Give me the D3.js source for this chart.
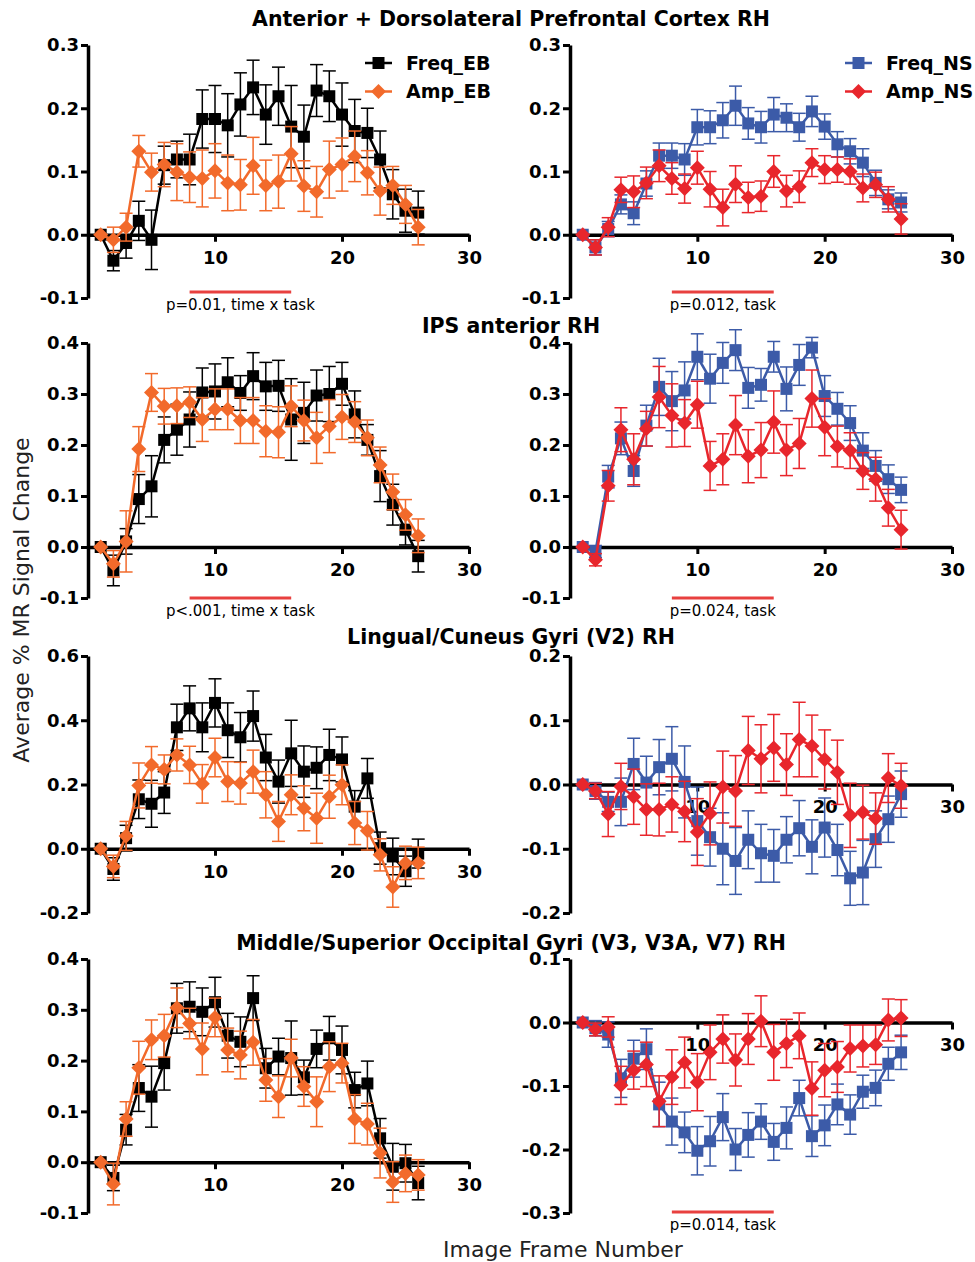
<!DOCTYPE html>
<html>
  <head>
    <style>
      body { margin: 0; background: #fff; }
      svg text { font-family: "DejaVu Sans", sans-serif; }
    </style>
    <script src="https://cdn.jsdelivr.net/npm/d3@7"></script>
    <title>MR signal change</title>
  </head>
  <body>
    <svg id="chart" width="975" height="1262"></svg>
    <script>
      var frames = [1, 2, 3, 4, 5, 6, 7, 8, 9, 10, 11, 12, 13, 14, 15, 16, 17, 18, 19, 20, 21, 22, 23, 24, 25, 26];
      var xTicks = [10, 20, 30];

      var regionTitles = [
        "Anterior + Dorsolateral Prefrontal Cortex RH",
        "IPS anterior RH",
        "Lingual/Cuneus Gyri (V2) RH",
        "Middle/Superior Occipital Gyri (V3, V3A, V7) RH"
      ];

      // prefrontal
      var pfcFreqEB = [0, -0.041, -0.013, 0.022, -0.008, 0.11, 0.119, 0.119, 0.183, 0.183, 0.173, 0.206, 0.233, 0.19, 0.219, 0.171, 0.155, 0.228, 0.219, 0.19, 0.164, 0.161, 0.119, 0.064, 0.038, 0.035];
      var pfcFreqEBErr = [0, 0.016, 0.024, 0.031, 0.047, 0.03, 0.029, 0.04, 0.046, 0.053, 0.05, 0.05, 0.043, 0.047, 0.046, 0.065, 0.05, 0.041, 0.04, 0.05, 0.05, 0.039, 0.045, 0.039, 0.034, 0.034];
      var pfcAmpEB = [0, -0.008, 0.012, 0.132, 0.099, 0.111, 0.099, 0.091, 0.089, 0.101, 0.082, 0.079, 0.109, 0.078, 0.084, 0.128, 0.077, 0.068, 0.103, 0.111, 0.124, 0.098, 0.069, 0.078, 0.048, 0.012];
      var pfcAmpEBErr = [0, 0.02, 0.022, 0.025, 0.03, 0.035, 0.045, 0.04, 0.045, 0.043, 0.044, 0.04, 0.045, 0.04, 0.042, 0.043, 0.04, 0.04, 0.045, 0.042, 0.04, 0.035, 0.038, 0.03, 0.03, 0.028];
      var pfcFreqNS = [0, -0.02, 0.009, 0.048, 0.034, 0.081, 0.125, 0.125, 0.119, 0.17, 0.17, 0.181, 0.204, 0.176, 0.17, 0.19, 0.185, 0.17, 0.195, 0.171, 0.143, 0.132, 0.114, 0.082, 0.056, 0.051];
      var pfcFreqNSErr = [0, 0.012, 0.012, 0.015, 0.018, 0.02, 0.02, 0.02, 0.025, 0.028, 0.026, 0.028, 0.031, 0.025, 0.025, 0.027, 0.022, 0.022, 0.024, 0.02, 0.02, 0.02, 0.022, 0.02, 0.015, 0.015];
      var pfcAmpNS = [0, -0.02, 0.012, 0.071, 0.068, 0.082, 0.109, 0.089, 0.073, 0.106, 0.072, 0.043, 0.08, 0.059, 0.061, 0.1, 0.069, 0.076, 0.114, 0.103, 0.103, 0.1, 0.074, 0.079, 0.056, 0.025];
      var pfcAmpNSErr = [0, 0.012, 0.015, 0.02, 0.025, 0.025, 0.025, 0.025, 0.023, 0.026, 0.028, 0.029, 0.029, 0.024, 0.024, 0.025, 0.025, 0.025, 0.022, 0.022, 0.02, 0.02, 0.022, 0.02, 0.02, 0.024];

      // IPS
      var ipsFreqEB = [0, -0.046, 0.011, 0.094, 0.119, 0.21, 0.23, 0.25, 0.303, 0.305, 0.323, 0.302, 0.335, 0.315, 0.316, 0.25, 0.263, 0.297, 0.3, 0.32, 0.26, 0.21, 0.139, 0.083, 0.034, -0.018];
      var ipsFreqEBErr = [0, 0.03, 0.025, 0.048, 0.06, 0.045, 0.05, 0.054, 0.048, 0.054, 0.048, 0.034, 0.046, 0.047, 0.05, 0.08, 0.06, 0.05, 0.054, 0.042, 0.046, 0.03, 0.05, 0.04, 0.03, 0.031];
      var ipsAmpEB = [0, -0.033, 0.011, 0.192, 0.303, 0.276, 0.277, 0.284, 0.25, 0.27, 0.27, 0.248, 0.248, 0.227, 0.225, 0.276, 0.248, 0.214, 0.237, 0.255, 0.245, 0.214, 0.161, 0.108, 0.063, 0.022];
      var ipsAmpEBErr = [0, 0.026, 0.06, 0.044, 0.037, 0.035, 0.035, 0.03, 0.043, 0.04, 0.04, 0.045, 0.045, 0.05, 0.05, 0.04, 0.04, 0.05, 0.052, 0.044, 0.04, 0.035, 0.035, 0.035, 0.03, 0.033];
      var ipsFreqNS = [0, -0.009, 0.138, 0.213, 0.149, 0.238, 0.314, 0.286, 0.307, 0.373, 0.33, 0.361, 0.386, 0.312, 0.318, 0.373, 0.31, 0.357, 0.391, 0.296, 0.271, 0.243, 0.189, 0.159, 0.133, 0.112];
      var ipsFreqNSErr = [0, 0.012, 0.022, 0.032, 0.03, 0.04, 0.056, 0.058, 0.056, 0.045, 0.048, 0.04, 0.04, 0.04, 0.032, 0.03, 0.043, 0.04, 0.02, 0.04, 0.032, 0.034, 0.035, 0.03, 0.028, 0.025];
      var ipsAmpNS = [0, -0.025, 0.12, 0.23, 0.172, 0.232, 0.294, 0.258, 0.243, 0.279, 0.159, 0.172, 0.239, 0.178, 0.19, 0.245, 0.19, 0.203, 0.291, 0.235, 0.197, 0.189, 0.149, 0.133, 0.077, 0.034];
      var ipsAmpNSErr = [0, 0.012, 0.03, 0.043, 0.05, 0.034, 0.06, 0.062, 0.046, 0.046, 0.048, 0.05, 0.058, 0.052, 0.054, 0.061, 0.05, 0.049, 0.056, 0.056, 0.04, 0.035, 0.036, 0.043, 0.036, 0.038];

      // V2
      var v2FreqEB = [0, -0.063, 0.033, 0.154, 0.14, 0.175, 0.378, 0.437, 0.378, 0.454, 0.369, 0.347, 0.413, 0.284, 0.209, 0.297, 0.24, 0.252, 0.292, 0.278, 0.131, 0.219, 0.002, -0.024, -0.07, -0.015];
      var v2FreqEBErr = [0, 0.035, 0.04, 0.06, 0.073, 0.065, 0.072, 0.07, 0.076, 0.075, 0.085, 0.077, 0.078, 0.072, 0.067, 0.103, 0.08, 0.065, 0.08, 0.07, 0.05, 0.062, 0.05, 0.057, 0.047, 0.045];
      var v2AmpEB = [0, -0.055, 0.04, 0.197, 0.261, 0.247, 0.292, 0.261, 0.202, 0.284, 0.209, 0.204, 0.24, 0.168, 0.085, 0.168, 0.126, 0.095, 0.162, 0.199, 0.08, 0.056, -0.019, -0.119, -0.044, -0.044];
      var v2AmpEBErr = [0, 0.035, 0.045, 0.07, 0.057, 0.045, 0.05, 0.058, 0.06, 0.06, 0.062, 0.065, 0.067, 0.072, 0.062, 0.062, 0.07, 0.078, 0.067, 0.062, 0.067, 0.06, 0.05, 0.063, 0.052, 0.049];
      var v2FreqNS = [0, -0.01, -0.027, -0.027, 0.032, 0.003, 0.027, 0.04, 0.004, -0.057, -0.082, -0.1, -0.119, -0.086, -0.107, -0.111, -0.086, -0.068, -0.097, -0.067, -0.102, -0.146, -0.137, -0.085, -0.054, -0.015];
      var v2FreqNSErr = [0, 0.013, 0.015, 0.037, 0.04, 0.041, 0.043, 0.05, 0.056, 0.053, 0.045, 0.056, 0.052, 0.045, 0.045, 0.041, 0.036, 0.043, 0.042, 0.046, 0.04, 0.042, 0.05, 0.044, 0.036, 0.036];
      var v2AmpNS = [0, -0.01, -0.046, -0.003, -0.019, -0.039, -0.039, -0.031, -0.042, -0.074, -0.045, -0.004, -0.01, 0.053, 0.04, 0.057, 0.031, 0.07, 0.06, 0.039, 0.019, -0.048, -0.043, -0.053, 0.01, -0.002];
      var v2AmpNSErr = [0, 0.012, 0.035, 0.036, 0.043, 0.04, 0.041, 0.043, 0.047, 0.052, 0.049, 0.056, 0.055, 0.053, 0.053, 0.052, 0.048, 0.058, 0.048, 0.046, 0.05, 0.05, 0.042, 0.04, 0.038, 0.035];

      // V3
      var v3FreqEB = [0, -0.031, 0.064, 0.146, 0.129, 0.195, 0.303, 0.306, 0.296, 0.315, 0.249, 0.237, 0.323, 0.185, 0.208, 0.205, 0.167, 0.223, 0.244, 0.221, 0.142, 0.155, 0.047, -0.009, -0.002, -0.041];
      var v3FreqEBErr = [0, 0.025, 0.03, 0.046, 0.06, 0.053, 0.049, 0.049, 0.047, 0.049, 0.044, 0.049, 0.044, 0.039, 0.036, 0.073, 0.034, 0.037, 0.043, 0.047, 0.035, 0.044, 0.039, 0.046, 0.037, 0.033];
      var v3AmpEB = [0, -0.043, 0.085, 0.186, 0.241, 0.249, 0.304, 0.273, 0.223, 0.285, 0.221, 0.211, 0.236, 0.162, 0.129, 0.205, 0.149, 0.119, 0.188, 0.195, 0.085, 0.075, 0.018, -0.039, -0.022, -0.025];
      var v3AmpEBErr = [0, 0.041, 0.034, 0.052, 0.039, 0.042, 0.039, 0.03, 0.051, 0.038, 0.043, 0.047, 0.045, 0.042, 0.041, 0.037, 0.039, 0.049, 0.049, 0.039, 0.048, 0.041, 0.049, 0.04, 0.036, 0.03];
      var v3FreqNS = [0, -0.009, -0.019, -0.088, -0.057, -0.042, -0.129, -0.156, -0.173, -0.202, -0.187, -0.149, -0.2, -0.177, -0.156, -0.188, -0.166, -0.119, -0.179, -0.162, -0.129, -0.145, -0.109, -0.103, -0.065, -0.047];
      var v3FreqNSErr = [0, 0.012, 0.02, 0.03, 0.029, 0.032, 0.035, 0.037, 0.032, 0.038, 0.039, 0.037, 0.033, 0.035, 0.028, 0.029, 0.033, 0.028, 0.032, 0.032, 0.032, 0.031, 0.026, 0.028, 0.026, 0.027];
      var v3AmpNS = [0, -0.011, -0.007, -0.099, -0.075, -0.066, -0.124, -0.086, -0.063, -0.094, -0.047, -0.026, -0.059, -0.026, 0.002, -0.047, -0.033, -0.021, -0.104, -0.075, -0.07, -0.041, -0.037, -0.035, 0.004, 0.007];
      var v3AmpNSErr = [0, 0.01, 0.016, 0.03, 0.03, 0.035, 0.04, 0.043, 0.04, 0.045, 0.043, 0.038, 0.041, 0.04, 0.04, 0.044, 0.038, 0.036, 0.042, 0.042, 0.04, 0.037, 0.033, 0.031, 0.033, 0.029];

      var panels = [
        { row: 0, col: 0, group: "EB", freq: pfcFreqEB, freqErr: pfcFreqEBErr, amp: pfcAmpEB, ampErr: pfcAmpEBErr, yDomain: [-0.1, 0.3], yTicks: [-0.1, 0, 0.1, 0.2, 0.3], note: "p=0.01, time x task", noteRange: [8, 16] },
        { row: 0, col: 1, group: "NS", freq: pfcFreqNS, freqErr: pfcFreqNSErr, amp: pfcAmpNS, ampErr: pfcAmpNSErr, yDomain: [-0.1, 0.3], yTicks: [-0.1, 0, 0.1, 0.2, 0.3], note: "p=0.012, task", noteRange: [8, 16] },
        { row: 1, col: 0, group: "EB", freq: ipsFreqEB, freqErr: ipsFreqEBErr, amp: ipsAmpEB, ampErr: ipsAmpEBErr, yDomain: [-0.1, 0.4], yTicks: [-0.1, 0, 0.1, 0.2, 0.3, 0.4], note: "p<.001, time x task", noteRange: [8, 16] },
        { row: 1, col: 1, group: "NS", freq: ipsFreqNS, freqErr: ipsFreqNSErr, amp: ipsAmpNS, ampErr: ipsAmpNSErr, yDomain: [-0.1, 0.4], yTicks: [-0.1, 0, 0.1, 0.2, 0.3, 0.4], note: "p=0.024, task", noteRange: [8, 16] },
        { row: 2, col: 0, group: "EB", freq: v2FreqEB, freqErr: v2FreqEBErr, amp: v2AmpEB, ampErr: v2AmpEBErr, yDomain: [-0.2, 0.6], yTicks: [-0.2, 0, 0.2, 0.4, 0.6] },
        { row: 2, col: 1, group: "NS", freq: v2FreqNS, freqErr: v2FreqNSErr, amp: v2AmpNS, ampErr: v2AmpNSErr, yDomain: [-0.2, 0.2], yTicks: [-0.2, -0.1, 0, 0.1, 0.2] },
        { row: 3, col: 0, group: "EB", freq: v3FreqEB, freqErr: v3FreqEBErr, amp: v3AmpEB, ampErr: v3AmpEBErr, yDomain: [-0.1, 0.4], yTicks: [-0.1, 0, 0.1, 0.2, 0.3, 0.4] },
        { row: 3, col: 1, group: "NS", freq: v3FreqNS, freqErr: v3FreqNSErr, amp: v3AmpNS, ampErr: v3AmpNSErr, yDomain: [-0.3, 0.1], yTicks: [-0.3, -0.2, -0.1, 0, 0.1], note: "p=0.014, task", noteRange: [8, 16] }
      ];

      var styles = {
        EB: [
          { name: "Freq_EB", color: "#000000", shape: "square" },
          { name: "Amp_EB", color: "#F26A2B", shape: "diamond" }
        ],
        NS: [
          { name: "Freq_NS", color: "#3C5BA8", shape: "square" },
          { name: "Amp_NS", color: "#E8262C", shape: "diamond" }
        ]
      };

      var cols = [
        { left: 88, right: 469, legend: 365 },
        { left: 570, right: 952, legend: 845 }
      ];
      var rows = [
        { top: 45, bottom: 298, title: 26, noteShift: -6 },
        { top: 343, bottom: 598, title: 333, noteShift: 0 },
        { top: 656, bottom: 913, title: 644, noteShift: 0 },
        { top: 959, bottom: 1213, title: 950, noteShift: -1 }
      ];

      var svg = d3.select("#chart");
      var noteColor = "#E8403F";

      function marker(sel, shape, color) {
        if (shape === "square") {
          sel.append("rect")
            .attr("x", -6).attr("y", -6)
            .attr("width", 12).attr("height", 12)
            .style("fill", color);
        } else {
          sel.append("path")
            .attr("d", "M0,-7.5L7.5,0L0,7.5L-7.5,0Z")
            .style("fill", color);
        }
      }

      rows.forEach(function (r, i) {
        svg.append("text")
          .attr("x", 511)
          .attr("y", r.title)
          .attr("text-anchor", "middle")
          .style("font-size", "20.5px")
          .style("font-weight", "bold")
          .text(regionTitles[i]);
      });

      panels.forEach(function (p) {
        var c = cols[p.col];
        var r = rows[p.row];
        var x = d3.scaleLinear().domain([0, 30]).range([c.left, c.right]);
        var y = d3.scaleLinear().domain(p.yDomain).range([r.bottom, r.top]);
        var g = svg.append("g");

        var yAxis = g.append("g")
          .attr("transform", "translate(" + x(0) + ",0)")
          .call(d3.axisLeft(y).tickValues(p.yTicks).tickSize(7).tickPadding(2).tickSizeOuter(0)
            .tickFormat(function (d) { return d.toFixed(1); }));
        var xAxis = g.append("g")
          .attr("transform", "translate(0," + y(0) + ")")
          .call(d3.axisBottom(x).tickValues(xTicks).tickSize(7).tickPadding(9).tickSizeOuter(0));

        [yAxis, xAxis].forEach(function (a) {
          a.select(".domain").style("stroke", "#000").style("stroke-width", "3.5px");
          a.selectAll(".tick line").style("stroke", "#000").style("stroke-width", "3px");
          a.selectAll("text")
            .style("font-family", "DejaVu Sans")
            .style("font-weight", "bold")
            .style("font-size", "18px")
            .style("fill", "#000");
        });

        var series = [
          { values: p.freq, errs: p.freqErr, style: styles[p.group][0] },
          { values: p.amp, errs: p.ampErr, style: styles[p.group][1] }
        ];

        series.forEach(function (s) {
          var pts = frames.map(function (f, i) {
            return { f: f, v: s.values[i], e: s.errs[i] };
          });
          var sg = g.append("g");
          var eb = sg.selectAll(".err")
            .data(pts.filter(function (d) { return d.e > 0; }))
            .enter()
            .append("g")
            .style("stroke", s.style.color)
            .style("stroke-width", "1.5px");
          eb.append("line")
            .attr("x1", function (d) { return x(d.f); })
            .attr("x2", function (d) { return x(d.f); })
            .attr("y1", function (d) { return y(d.v - d.e); })
            .attr("y2", function (d) { return y(d.v + d.e); });
          [-1, 1].forEach(function (k) {
            eb.append("line")
              .attr("x1", function (d) { return x(d.f) - 6.5; })
              .attr("x2", function (d) { return x(d.f) + 6.5; })
              .attr("y1", function (d) { return y(d.v + k * d.e); })
              .attr("y2", function (d) { return y(d.v + k * d.e); });
          });

          sg.append("path")
            .datum(pts)
            .attr("d", d3.line()
              .x(function (d) { return x(d.f); })
              .y(function (d) { return y(d.v); }))
            .style("fill", "none")
            .style("stroke", s.style.color)
            .style("stroke-width", "2.5px");

          sg.selectAll(".mk")
            .data(pts)
            .enter()
            .append("g")
            .attr("transform", function (d) { return "translate(" + x(d.f) + "," + y(d.v) + ")"; })
            .each(function () { marker(d3.select(this), s.style.shape, s.style.color); });
        });

        if (p.note) {
          var ny = r.bottom + r.noteShift;
          g.append("line")
            .attr("x1", x(p.noteRange[0]))
            .attr("x2", x(p.noteRange[1]))
            .attr("y1", ny)
            .attr("y2", ny)
            .style("stroke", noteColor)
            .style("stroke-width", "3px");
          g.append("text")
            .attr("x", (x(p.noteRange[0]) + x(p.noteRange[1])) / 2)
            .attr("y", ny + 18)
            .attr("text-anchor", "middle")
            .style("font-size", "15px")
            .style("fill", "#000")
            .text(p.note);
        }

        if (p.row === 0) {
          styles[p.group].forEach(function (s, i) {
            var ly = 63 + i * 28.5;
            g.append("line")
              .attr("x1", c.legend)
              .attr("x2", c.legend + 27)
              .attr("y1", ly)
              .attr("y2", ly)
              .style("stroke", s.color)
              .style("stroke-width", "2.5px");
            var m = g.append("g").attr("transform", "translate(" + (c.legend + 13.5) + "," + ly + ")");
            marker(m, s.shape, s.color);
            g.append("text")
              .attr("x", c.legend + 41)
              .attr("y", ly + 6.5)
              .style("font-size", "19px")
              .style("font-weight", "bold")
              .style("fill", "#000")
              .text(s.name);
          });
        }
      });

      svg.append("text")
        .attr("transform", "translate(29,600) rotate(-90)")
        .attr("text-anchor", "middle")
        .style("font-size", "22px")
        .style("fill", "#222")
        .text("Average % MR Signal Change");

      svg.append("text")
        .attr("x", 563)
        .attr("y", 1257)
        .attr("text-anchor", "middle")
        .style("font-size", "22px")
        .style("fill", "#222")
        .text("Image Frame Number");
    </script>
  </body>
</html>
